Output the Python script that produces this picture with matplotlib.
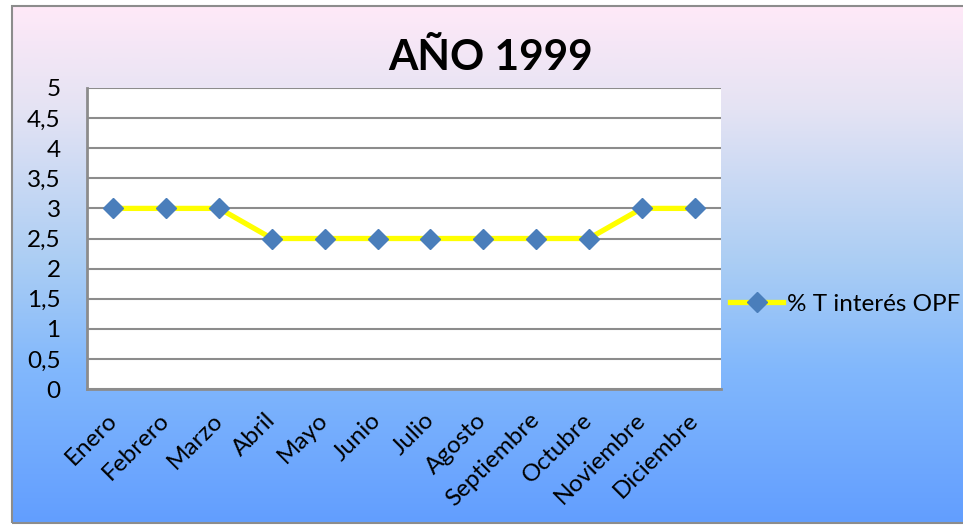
import numpy as np
import matplotlib
matplotlib.use("Agg")
import matplotlib.pyplot as plt
from matplotlib.colors import LinearSegmentedColormap
from matplotlib.patches import Rectangle
from matplotlib.ticker import FuncFormatter

months = ["Enero", "Febrero", "Marzo", "Abril", "Mayo", "Junio", "Julio",
          "Agosto", "Septiembre", "Octubre", "Noviembre", "Diciembre"]
rate = [3, 3, 3, 2.5, 2.5, 2.5, 2.5, 2.5, 2.5, 2.5, 3, 3]
series_name = "% T interés OPF"
title = "AÑO 1999"
y_ticks = [0, 0.5, 1, 1.5, 2, 2.5, 3, 3.5, 4, 4.5, 5]

plt.rcParams['font.family'] = ['Lato', 'DejaVu Sans']

W, H = 963, 525
fig = plt.figure(figsize=(W / 100, H / 100), dpi=100)
fig.patch.set_facecolor("white")

# chart area with vertical gradient background
x0, y0, x1, y1 = 12, 6, 975, 523
bg = fig.add_axes([x0 / W, 1 - y1 / H, (x1 - x0) / W, (y1 - y0) / H], zorder=-2)
cmap = LinearSegmentedColormap.from_list(
    "bg", [(0.0, "#FFE9F8"), (0.2, "#E4E3F3"), (0.5, "#AACDF4"),
           (0.7, "#82B8FC"), (1.0, "#629EFF")])
grad = np.linspace(0, 1, 256).reshape(-1, 1)
bg.imshow(grad, aspect="auto", cmap=cmap, extent=[0, 1, 1, 0])
bg.set_axis_off()
fig.patches.append(Rectangle((x0 / W, 1 - y1 / H), (x1 - x0) / W, (y1 - y0) / H,
                             transform=fig.transFigure, fill=False,
                             edgecolor="#8C8C8C", linewidth=1.5, zorder=5))

# plot area
px0, py0, px1, py1 = 87, 88, 721, 389
ax = fig.add_axes([px0 / W, 1 - py1 / H, (px1 - px0) / W, (py1 - py0) / H])
ax.set_facecolor("white")
x = np.arange(len(months))
ax.plot(x, rate, color="#FFFF00", linewidth=3.8, marker="D", markersize=10,
        markerfacecolor="#4A7EBB", markeredgecolor="#4A7EBB", label=series_name,
        solid_joinstyle="round", zorder=3)

ax.set_xlim(-0.5, len(months) - 0.5)
ax.set_ylim(0, 5)
ax.set_yticks(y_ticks)
ax.yaxis.set_major_formatter(FuncFormatter(lambda v, p: f"{v:g}".replace(".", ",")))
ax.grid(axis="y", color="#8C8C8C", linewidth=1.5, zorder=0)
ax.set_axisbelow(True)
for s in ["top", "right"]:
    ax.spines[s].set_visible(False)
for s in ["left", "bottom"]:
    ax.spines[s].set_color("#8C8C8C")
    ax.spines[s].set_linewidth(2)

ax.tick_params(axis="y", length=0, pad=19, labelsize=17.5)
ax.set_xticks(x)
ax.set_xticklabels(months, rotation=45, ha="right", va="center",
                   rotation_mode="anchor")
ax.tick_params(axis="x", length=0, pad=20, labelsize=17.5)

fig.text(491 / W, 1 - 58 / H, title, ha="center", va="center",
         fontsize=30.5, fontweight="bold")

ax.legend(loc="center left", bbox_to_anchor=(730 / W, 1 - 304 / H),
          bbox_transform=fig.transFigure, frameon=False, fontsize=17.5,
          handlelength=2.2, handletextpad=0.15, borderaxespad=0, borderpad=0)

fig.savefig("out.png", dpi=100)
